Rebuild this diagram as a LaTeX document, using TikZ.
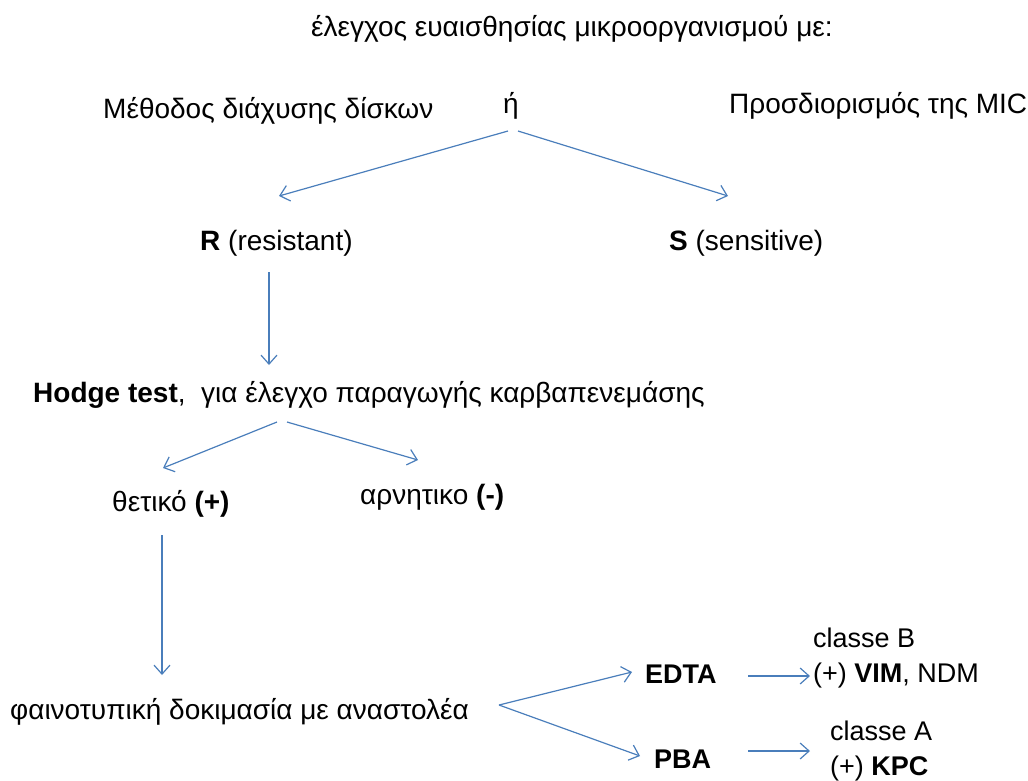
\documentclass[tikz,border=0pt]{standalone}
\usepackage{fontspec}
\setmainfont{Liberation Sans}
\usetikzlibrary{arrows.meta}
\definecolor{arrowblue}{HTML}{4A7EBB}
\tikzset{
  lbl/.style={anchor=base west, inner sep=0pt, font=\fontsize{28}{33}\selectfont},
  lbls/.style={lbl, font=\fontsize{27}{32}\selectfont},
  conn/.style={draw=arrowblue, line width=1.2pt, -{Straight Barb[length=9pt,width=16pt,line width=1.2pt]}}
}
\begin{document}
\begin{tikzpicture}[x=1pt,y=-1pt]
\useasboundingbox (0,0) rectangle (1028,780);
% texts
\node[lbl] (title) at (311,36) {έλεγχος ευαισθησίας μικροοργανισμού με:};
\node[lbl] (disk) at (103,118) {Μέθοδος διάχυσης δίσκων};
\node[lbl] (or) at (503,113) {ή};
\node[lbl] (mic) at (729,113) {Προσδιορισμός της MIC};
\node[lbl] (R) at (200,250) {\textbf{R} (resistant)};
\node[lbl] (S) at (669,250) {\textbf{S} (sensitive)};
\node[lbl] (hodge) at (33,402) {\textbf{Hodge test},\ \ για έλεγχο παραγωγής καρβαπενεμάσης};
\node[lbl] (pos) at (112,511) {θετικό \textbf{(+)}};
\node[lbl] (neg) at (360,504) {αρνητικο \textbf{(-)}};
\node[lbl] (pheno) at (10,719) {φαινοτυπική δοκιμασία με αναστολέα};
\node[lbls] (edta) at (645,683) {\textbf{EDTA}};
\node[lbls] (pba) at (654,768) {\textbf{PBA}};
\node[lbls] (clB) at (813,647) {classe B};
\node[lbls] (vim) at (813,682) {(+) \textbf{VIM}, NDM};
\node[lbls] (clA) at (830,740) {classe A};
\node[lbls] (kpc) at (830,775) {(+) \textbf{KPC}};
% connector end points
\coordinate (orL) at (508,131);
\coordinate (orR) at (518,131);
\coordinate (Rin) at (279,196);
\coordinate (Sin) at (728,196);
\coordinate (Rout) at (269,272);
\coordinate (hodgeIn) at (269,365);
\coordinate (hodgeL) at (277,422);
\coordinate (hodgeR) at (287,422);
\coordinate (posIn) at (163,468);
\coordinate (negIn) at (418,460);
\coordinate (posOut) at (162,535);
\coordinate (phenoIn) at (162,675);
\coordinate (phenoOut) at (499,705);
\coordinate (edtaIn) at (632,672);
\coordinate (pbaIn) at (640,756);
\coordinate (edtaOut) at (748,676);
\coordinate (vimIn) at (810,676);
\coordinate (pbaOut) at (748,751);
\coordinate (kpcIn) at (810,751);
% connectors
\draw[conn] (orL) -- (Rin);
\draw[conn] (orR) -- (Sin);
\draw[conn] (Rout) -- (hodgeIn);
\draw[conn] (hodgeL) -- (posIn);
\draw[conn] (hodgeR) -- (negIn);
\draw[conn] (posOut) -- (phenoIn);
\draw[conn] (phenoOut) -- (edtaIn);
\draw[conn] (phenoOut) -- (pbaIn);
\draw[conn] (edtaOut) -- (vimIn);
\draw[conn] (pbaOut) -- (kpcIn);
\end{tikzpicture}
\end{document}
